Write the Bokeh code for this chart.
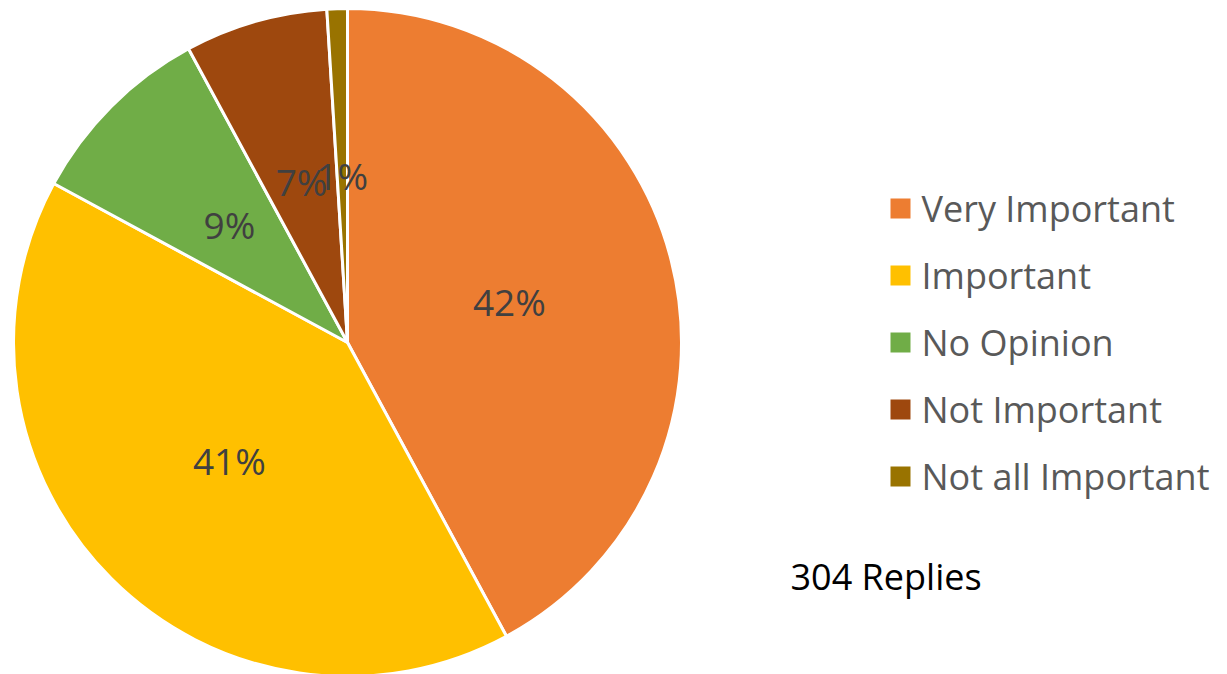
import numpy as np
from bokeh.plotting import figure
from bokeh.models import ColumnDataSource, Range1d
from bokeh.core.properties import value
from bokeh.embed import file_html
from bokeh.resources import INLINE

categories = ["Very Important", "Important", "No Opinion", "Not Important", "Not all Important"]
counts = [128, 124, 28, 21, 3]
colors = ["#ED7D31", "#FFC000", "#70AD47", "#9E480E", "#997300"]
total_label = "304 Replies"

W, H = 1227, 674
p = figure(width=W, height=H, output_backend="svg", toolbar_location=None,
           x_range=Range1d(0, W), y_range=Range1d(0, H),
           x_axis_location=None, y_axis_location=None, min_border=0,
           outline_line_color=None, background_fill_color="white",
           border_fill_color="white")
p.grid.visible = False

cx, cy, R = 347, 332, 334
vals = np.array(counts, dtype=float)
frac = vals / vals.sum()
cum = np.concatenate([[0], np.cumsum(frac)])
start = np.pi / 2 - 2 * np.pi * cum[:-1]
end = np.pi / 2 - 2 * np.pi * cum[1:]
mid = (start + end) / 2
pct = [f"{round(f * 100):.0f}%" for f in frac]

src = ColumnDataSource(dict(cat=categories, color=colors, start=start, end=end,
                            lx=cx + 0.5 * R * np.cos(mid), ly=cy + 0.5 * R * np.sin(mid),
                            pct=pct))
p.wedge(x=cx, y=cy, radius=R, radius_units="screen", start_angle="start", end_angle="end",
        direction="clock", fill_color="color", line_color="white", line_width=3, source=src)
p.text(x="lx", y="ly", text="pct", source=src, text_align="center", text_baseline="middle",
       text_font=value("Open Sans"), text_font_size="37px", text_color="#404040")

# legend
n = len(categories)
ly = [466 - 67 * i for i in range(n)]
lsrc = ColumnDataSource(dict(cat=categories, color=colors, y=ly))
p.rect(x=900, y="y", width=20, height=20, fill_color="color", line_color=None, source=lsrc)
p.text(x=921, y="y", text="cat", source=lsrc, text_align="left", text_baseline="middle",
       text_font=value("Open Sans"), text_font_size="36px", text_color="#595959")

p.text(x=[790], y=[98], text=[total_label], text_align="left", text_baseline="middle",
       text_font=value("Open Sans"), text_font_size="36px", text_color="#000000")

open("out.html", "w").write(file_html(p, INLINE))
